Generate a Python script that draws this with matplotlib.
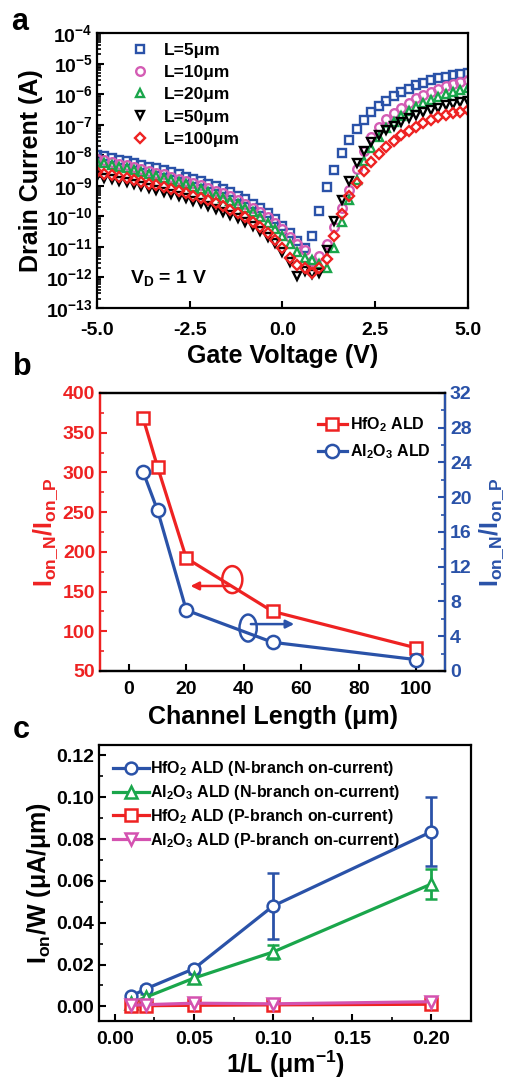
import matplotlib
matplotlib.use('Agg')
import matplotlib.pyplot as plt
import numpy as np
from matplotlib.patches import Ellipse
from matplotlib.ticker import FuncFormatter, LogLocator, MultipleLocator, NullFormatter

plt.rcParams['font.family'] = ['Liberation Sans', 'DejaVu Sans']
plt.rcParams['font.weight'] = 'bold'
plt.rcParams['axes.labelweight'] = 'bold'
plt.rcParams['mathtext.fontset'] = 'custom'
plt.rcParams['mathtext.rm'] = 'Liberation Sans:bold'
plt.rcParams['mathtext.bf'] = 'Liberation Sans:bold'
plt.rcParams['mathtext.it'] = 'Liberation Sans:bold:italic'
plt.rcParams['mathtext.default'] = 'bf'
plt.rcParams['axes.unicode_minus'] = False
plt.rcParams['axes.linewidth'] = 1.6
plt.rcParams['xtick.direction'] = 'in'
plt.rcParams['ytick.direction'] = 'in'
plt.rcParams['xtick.major.width'] = 1.5
plt.rcParams['ytick.major.width'] = 1.5
plt.rcParams['xtick.minor.width'] = 1.2
plt.rcParams['ytick.minor.width'] = 1.2
plt.rcParams['xtick.major.size'] = 5
plt.rcParams['ytick.major.size'] = 5
plt.rcParams['xtick.minor.size'] = 3
plt.rcParams['ytick.minor.size'] = 3
plt.rcParams['xtick.major.pad'] = 7
plt.rcParams['axes.labelpad'] = 6

BLUE = '#2a52a8'
PINK = '#d45cb4'
GREEN = '#1aa64b'
RED = '#ee2222'
MAG = '#d452b0'

# ---- panel a: transfer curves, log10(Id) vs Vg
vg = np.linspace(-5, 5, 51)
log_id_5 = [-7.98, -8.03, -8.08, -8.14, -8.19, -8.25, -8.31, -8.37, -8.43, -8.49,
            -8.56, -8.63, -8.70, -8.77, -8.85, -8.93, -9.02, -9.11, -9.21, -9.32,
            -9.44, -9.58, -9.73, -9.90, -10.10, -10.32, -10.56, -10.82, -11.02, -10.65,
            -9.84, -9.05, -8.48, -7.92, -7.50, -7.15, -6.85, -6.60, -6.39, -6.22,
            -6.06, -5.93, -5.82, -5.71, -5.63, -5.55, -5.48, -5.43, -5.39, -5.34, -5.30]
log_id_10 = [-8.12, -8.17, -8.22, -8.28, -8.33, -8.39, -8.45, -8.51, -8.57, -8.63,
             -8.70, -8.77, -8.84, -8.91, -8.99, -9.07, -9.16, -9.25, -9.35, -9.46,
             -9.58, -9.71, -9.86, -10.02, -10.21, -10.42, -10.66, -10.90, -11.10, -11.45,
             -11.30, -10.90, -10.35, -9.72, -9.15, -8.45, -7.85, -7.40, -7.08, -6.82,
             -6.61, -6.44, -6.28, -6.14, -6.02, -5.92, -5.82, -5.74, -5.66, -5.59, -5.53]
log_id_20 = [-8.22, -8.27, -8.32, -8.38, -8.43, -8.49, -8.55, -8.61, -8.67, -8.74,
             -8.81, -8.88, -8.95, -9.03, -9.11, -9.20, -9.29, -9.39, -9.49, -9.60,
             -9.72, -9.86, -10.03, -10.22, -10.42, -10.65, -10.90, -11.18, -11.35, -11.42,
             -11.55, -11.70, -11.05, -10.20, -9.48, -8.80, -8.20, -7.75, -7.40, -7.12,
             -6.90, -6.72, -6.56, -6.42, -6.30, -6.19, -6.09, -6.00, -5.92, -5.85, -5.79]
log_id_50 = [-8.68, -8.73, -8.78, -8.84, -8.89, -8.95, -9.01, -9.07, -9.13, -9.20,
             -9.27, -9.34, -9.41, -9.49, -9.57, -9.66, -9.75, -9.85, -9.95, -10.06,
             -10.18, -10.32, -10.48, -10.66, -10.88, -11.15, -11.50, -11.95, -11.80, -11.90,
             -11.85, -11.10, -10.15, -9.45, -8.85, -8.25, -7.86, -7.56, -7.35, -7.18,
             -7.03, -6.90, -6.79, -6.69, -6.60, -6.52, -6.44, -6.37, -6.31, -6.26, -6.21]
log_id_100 = [-8.55, -8.60, -8.65, -8.71, -8.76, -8.82, -8.87, -8.93, -8.99, -9.05,
              -9.11, -9.18, -9.25, -9.32, -9.40, -9.48, -9.57, -9.67, -9.78, -9.90,
              -10.03, -10.18, -10.35, -10.55, -10.78, -11.05, -11.35, -11.58, -11.70, -11.85,
              -11.68, -11.40, -10.65, -9.92, -9.33, -8.90, -8.52, -8.22, -7.95, -7.72,
              -7.52, -7.35, -7.20, -7.07, -6.95, -6.85, -6.76, -6.69, -6.63, -6.57, -6.52]

# ---- panel b: on-current ratio vs channel length
chan_len = [5, 10, 20, 50, 100]
ratio_hfo2 = [368, 307, 192, 125, 79]
ratio_al2o3 = [22.9, 18.5, 7.0, 3.3, 1.3]

# ---- panel c: on-current per width vs 1/L
inv_len = [0.01, 0.02, 0.05, 0.10, 0.20]
hfo2_n = [0.0048, 0.0085, 0.018, 0.048, 0.0835]
hfo2_n_err = [0.0012, 0.0012, 0.0015, 0.016, 0.0165]
al2o3_n = [0.0015, 0.0045, 0.0135, 0.026, 0.0585]
al2o3_n_err = [0.001, 0.0015, 0.002, 0.0035, 0.007]
hfo2_p = [0.0, 0.0003, 0.0005, 0.0007, 0.001]
hfo2_p_err = [0.0008, 0.0008, 0.0008, 0.0008, 0.0008]
al2o3_p = [0.0005, 0.0008, 0.0015, 0.0012, 0.0022]
al2o3_p_err = [0.0008, 0.0008, 0.0008, 0.0008, 0.0008]

fig = plt.figure(figsize=(5.13, 10.82), dpi=100)

# ================= a
axa = fig.add_axes([0.189, 0.7153, 0.723, 0.2542])
series_a = [(log_id_5, 's', BLUE, 'L=5μm'), (log_id_10, 'o', PINK, 'L=10μm'),
            (log_id_20, '^', GREEN, 'L=20μm'), (log_id_50, 'v', 'black', 'L=50μm'),
            (log_id_100, 'D', RED, 'L=100μm')]
for vals, mk, col, lab in series_a:
    ms = 5.6 if mk == 'D' else 6.2
    axa.semilogy(vg, 10 ** np.array(vals), ls='none', marker=mk, ms=ms, mfc='none',
                 mec=col, mew=1.7, label=lab)
axa.set_xlim(-5, 5)
axa.set_ylim(1e-13, 1e-4)
axa.set_xticks([-5, -2.5, 0, 2.5, 5])
axa.xaxis.set_major_formatter(FuncFormatter(lambda v, p: '%.1f' % v))
axa.yaxis.set_major_locator(LogLocator(base=10, numticks=20))
axa.yaxis.set_minor_locator(LogLocator(base=10, subs=np.arange(2, 10), numticks=20))
axa.yaxis.set_minor_formatter(NullFormatter())
axa.yaxis.set_major_formatter(FuncFormatter(lambda v, p: r'$\mathbf{10^{%d}}$' % round(np.log10(v))))
axa.tick_params(labelsize=14)
axa.tick_params(axis='y', pad=3)
axa.tick_params(axis='x', pad=10)
axa.set_xlabel('Gate Voltage (V)', fontsize=18, labelpad=4)
axa.set_ylabel('Drain Current (A)', fontsize=18, labelpad=2)
axa.text(0.09, 0.09, r'V$_\mathregular{D}$ = 1 V', transform=axa.transAxes, fontsize=14)
axa.legend(loc='upper left', bbox_to_anchor=(0.05, 1.02), frameon=False, fontsize=12.5,
           handletextpad=0.9, labelspacing=0.4, numpoints=1, handlelength=1.0)
fig.text(0.022, 0.972, 'a', fontsize=22, fontweight='bold')

# ================= b
axb = fig.add_axes([0.195, 0.3799, 0.6725, 0.2569])
axb2 = axb.twinx()
axb.plot(chan_len, ratio_hfo2, color=RED, lw=2.3, marker='s', ms=9, mfc='white', mec=RED,
         mew=1.8, label='HfO$_2$ ALD')
axb2.plot(chan_len, ratio_al2o3, color=BLUE, lw=2.3, marker='o', ms=9.5, mfc='white', mec=BLUE,
          mew=1.8, label='Al$_2$O$_3$ ALD')
axb.set_xlim(-10, 110)
axb.set_xticks([0, 20, 40, 60, 80, 100])
axb.set_ylim(50, 400)
axb.set_yticks(np.arange(50, 401, 50))
axb.yaxis.set_minor_locator(MultipleLocator(25))
axb2.set_ylim(0, 32)
axb2.set_yticks(np.arange(0, 33, 4))
axb2.yaxis.set_minor_locator(MultipleLocator(2))
axb.tick_params(labelsize=14)
axb.tick_params(axis='y', which='both', colors=RED)
axb2.tick_params(axis='y', which='both', colors=BLUE, labelsize=14)
axb.spines['left'].set_color(RED)
axb2.spines['left'].set_color(RED)
axb2.spines['right'].set_color(BLUE)
axb.set_xlabel('Channel Length (μm)', fontsize=18, labelpad=5)
axb.set_ylabel(r'I$_\mathregular{on\_N}$/I$_\mathregular{on\_P}$', fontsize=18, color=RED, labelpad=2)
axb2.set_ylabel(r'I$_\mathregular{on\_N}$/I$_\mathregular{on\_P}$', fontsize=18, color=BLUE,
                rotation=90, labelpad=4)
axb.add_patch(Ellipse((36, 165), 7, 34, fill=False, ec=RED, lw=1.8))
axb.annotate('', xy=(20.5, 157), xytext=(36, 157),
             arrowprops=dict(arrowstyle='-|>', color=RED, lw=1.8, mutation_scale=12))
axb.add_patch(Ellipse((41.5, 104), 6, 34, fill=False, ec=BLUE, lw=1.8))
axb.annotate('', xy=(58.5, 109), xytext=(41.5, 109),
             arrowprops=dict(arrowstyle='-|>', color=BLUE, lw=1.8, mutation_scale=12))
h1, l1 = axb.get_legend_handles_labels()
h2, l2 = axb2.get_legend_handles_labels()
axb2.legend(h1 + h2, l1 + l2, loc='upper right', bbox_to_anchor=(1.0, 0.97), frameon=False,
            fontsize=11.5, handlelength=1.8, handletextpad=0.2, labelspacing=0.5)
fig.text(0.025, 0.6534, 'b', fontsize=22, fontweight='bold')

# ================= c
axc = fig.add_axes([0.193, 0.0564, 0.725, 0.2551])
series_c = [(hfo2_n, hfo2_n_err, 'o', BLUE, 'HfO$_2$ ALD (N-branch on-current)'),
            (al2o3_n, al2o3_n_err, '^', GREEN, 'Al$_2$O$_3$ ALD (N-branch on-current)'),
            (hfo2_p, hfo2_p_err, 's', RED, 'HfO$_2$ ALD (P-branch on-current)'),
            (al2o3_p, al2o3_p_err, 'v', MAG, 'Al$_2$O$_3$ ALD (P-branch on-current)')]
for yv, ev, mk, col, lab in series_c:
    axc.errorbar(inv_len, yv, yerr=ev, color=col, lw=2.3, marker=mk, ms=8.5, mfc='white',
                 mec=col, mew=1.8, capsize=4, capthick=2, elinewidth=2, label=lab)
axc.set_xlim(-0.01, 0.225)
axc.set_ylim(-0.007, 0.125)
axc.set_xticks([0, 0.05, 0.10, 0.15, 0.20])
axc.xaxis.set_minor_locator(MultipleLocator(0.025))
axc.set_yticks(np.arange(0, 0.121, 0.02))
axc.yaxis.set_minor_locator(MultipleLocator(0.01))
axc.xaxis.set_major_formatter(FuncFormatter(lambda v, p: '%.2f' % v))
axc.yaxis.set_major_formatter(FuncFormatter(lambda v, p: '%.2f' % v))
axc.tick_params(labelsize=14)
axc.set_xlabel(r'1/L (μm$^{-1}$)', fontsize=18, labelpad=1)
axc.set_ylabel(r'I$_\mathregular{on}$/W (μA/μm)', fontsize=18, labelpad=2)
hc, lc = axc.get_legend_handles_labels()
hc = [h[0] for h in hc]
axc.legend(hc, lc, loc='upper left', bbox_to_anchor=(0.0, 1.0), frameon=False, fontsize=11.5,
           handlelength=2.2, handletextpad=0.1, labelspacing=0.3)
fig.text(0.025, 0.318, 'c', fontsize=22, fontweight='bold')

fig.savefig('out.png', dpi=100)
